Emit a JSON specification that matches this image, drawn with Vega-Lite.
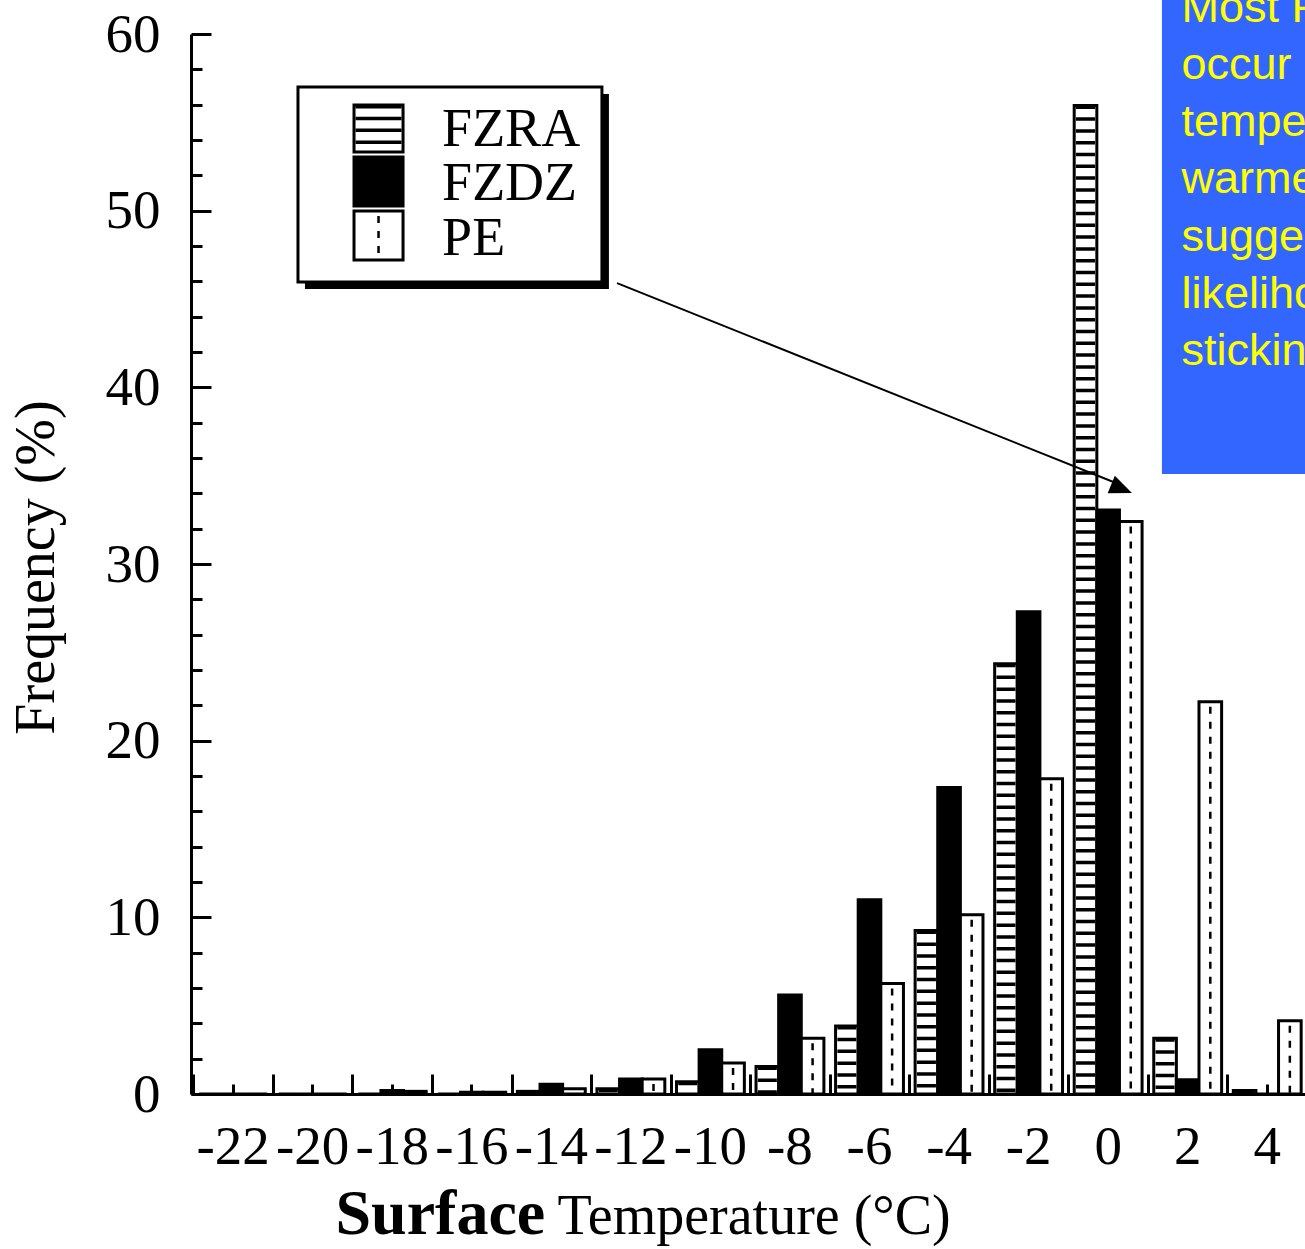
{
  "$schema": "https://vega.github.io/schema/vega-lite/v6.json",
  "width": 1116,
  "height": 1060,
  "autosize": "none",
  "padding": {"left": 191, "top": 34, "right": 0, "bottom": 155},
  "background": "white",
  "config": {
    "view": {"stroke": null},
    "axis": {
      "grid": false,
      "domainColor": "black",
      "domainWidth": 3,
      "tickColor": "black",
      "tickWidth": 3,
      "labelColor": "black",
      "titleColor": "black",
      "labelFont": "Liberation Serif",
      "titleFont": "Liberation Serif",
      "titleFontWeight": "normal",
      "labelFontSize": 55,
      "labelOverlap": false,
      "labelBound": false,
      "labelFlush": false
    }
  },
  "layer": [
    {
      "data": {
        "values": [
          {"temp": -22, "series": "FZRA", "freq": 0},
          {"temp": -22, "series": "FZDZ", "freq": 0},
          {"temp": -22, "series": "PE", "freq": 0},
          {"temp": -20, "series": "FZRA", "freq": 0},
          {"temp": -20, "series": "FZDZ", "freq": 0},
          {"temp": -20, "series": "PE", "freq": 0},
          {"temp": -18, "series": "FZRA", "freq": 0},
          {"temp": -18, "series": "FZDZ", "freq": 0.2},
          {"temp": -18, "series": "PE", "freq": 0.15},
          {"temp": -16, "series": "FZRA", "freq": 0},
          {"temp": -16, "series": "FZDZ", "freq": 0.1},
          {"temp": -16, "series": "PE", "freq": 0.1},
          {"temp": -14, "series": "FZRA", "freq": 0.15},
          {"temp": -14, "series": "FZDZ", "freq": 0.55},
          {"temp": -14, "series": "PE", "freq": 0.3},
          {"temp": -12, "series": "FZRA", "freq": 0.3},
          {"temp": -12, "series": "FZDZ", "freq": 0.85},
          {"temp": -12, "series": "PE", "freq": 0.85},
          {"temp": -10, "series": "FZRA", "freq": 0.7},
          {"temp": -10, "series": "FZDZ", "freq": 2.5},
          {"temp": -10, "series": "PE", "freq": 1.75},
          {"temp": -8, "series": "FZRA", "freq": 1.55},
          {"temp": -8, "series": "FZDZ", "freq": 5.6},
          {"temp": -8, "series": "PE", "freq": 3.15},
          {"temp": -6, "series": "FZRA", "freq": 3.85},
          {"temp": -6, "series": "FZDZ", "freq": 11.0},
          {"temp": -6, "series": "PE", "freq": 6.25},
          {"temp": -4, "series": "FZRA", "freq": 9.25},
          {"temp": -4, "series": "FZDZ", "freq": 17.35},
          {"temp": -4, "series": "PE", "freq": 10.15},
          {"temp": -2, "series": "FZRA", "freq": 24.35},
          {"temp": -2, "series": "FZDZ", "freq": 27.3},
          {"temp": -2, "series": "PE", "freq": 17.85},
          {"temp": 0, "series": "FZRA", "freq": 55.95},
          {"temp": 0, "series": "FZDZ", "freq": 33.05},
          {"temp": 0, "series": "PE", "freq": 32.4},
          {"temp": 2, "series": "FZRA", "freq": 3.15},
          {"temp": 2, "series": "FZDZ", "freq": 0.8},
          {"temp": 2, "series": "PE", "freq": 22.2},
          {"temp": 4, "series": "FZRA", "freq": 0.2},
          {"temp": 4, "series": "FZDZ", "freq": 0},
          {"temp": 4, "series": "PE", "freq": 4.15}
        ]
      },
      "layer": [
        {
          "mark": {"type": "bar", "stroke": "black", "strokeWidth": 3},
          "encoding": {
            "x": {
              "field": "temp", "type": "ordinal",
              "scale": {"domain": [-22, -20, -18, -16, -14, -12, -10, -8, -6, -4, -2, 0, 2, 4], "paddingInner": 0, "paddingOuter": 0.015, "align": 1},
              "axis": {
                "orient": "bottom",
                "labelAngle": 0,
                "tickBand": "center",
                "tickSize": -10,
                "labelPadding": 36,
                "title": "Temperature (°C)",
                "titleFontSize": 56,
                "titleAnchor": "start",
                "titleAlign": "left",
                "titleBaseline": "alphabetic",
                "titleX": 366,
                "titleY": 139
              }
            },
            "xOffset": {
              "field": "series", "type": "nominal",
              "scale": {"domain": ["FZRA", "FZDZ", "PE"], "paddingInner": 0, "paddingOuter": 0.258}
            },
            "y": {
              "field": "freq", "type": "quantitative",
              "scale": {"domain": [0, 60], "nice": false},
              "axis": {
                "orient": "left",
                "values": [0, 2, 4, 6, 8, 10, 12, 14, 16, 18, 20, 22, 24, 26, 28, 30, 32, 34, 36, 38, 40, 42, 44, 46, 48, 50, 52, 54, 56, 58, 60],
                "labelExpr": "datum.value % 10 === 0 ? datum.label : ''",
                "tickSize": {"condition": {"test": "datum.value % 10 === 0", "value": -20}, "value": -11},
                "labelPadding": 51,
                "title": "Frequency (%)",
                "titleFontSize": 56,
                "titleAngle": -90,
                "titleAlign": "center",
                "titleBaseline": "alphabetic",
                "titleX": -138,
                "titleY": 533
              }
            },
            "fill": {
              "field": "series", "type": "nominal",
              "scale": {"domain": ["FZRA", "FZDZ", "PE"], "range": ["white", "black", "white"]},
              "legend": null
            }
          }
        },
        {
          "transform": [{"filter": "datum.series === 'FZRA'"}],
          "mark": {"type": "rule", "color": "black", "strokeWidth": 19, "strokeDash": [3.5, 8.3]},
          "encoding": {
            "x": {
              "field": "temp", "type": "ordinal",
              "scale": {"domain": [-22, -20, -18, -16, -14, -12, -10, -8, -6, -4, -2, 0, 2, 4], "paddingInner": 0, "paddingOuter": 0.015, "align": 1},
              "axis": {
                "orient": "bottom",
                "tickBand": "extent",
                "tickSize": -20,
                "labels": false,
                "domain": false,
                "title": "Surface",
                "titleFontSize": 64,
                "titleFontWeight": "bold",
                "titleAnchor": "start",
                "titleAlign": "left",
                "titleBaseline": "alphabetic",
                "titleX": 144,
                "titleY": 139
              }
            },
            "xOffset": {
              "field": "series", "type": "nominal",
              "scale": {"domain": ["FZRA", "FZDZ", "PE"], "paddingInner": 0, "paddingOuter": 0.258}
            },
            "y": {"field": "freq", "type": "quantitative", "scale": {"domain": [0, 60], "nice": false}, "axis": null},
            "y2": {"datum": 0}
          }
        },
        {
          "transform": [{"filter": "datum.series === 'PE'"}],
          "mark": {"type": "rule", "color": "black", "strokeWidth": 2.5, "strokeDash": [7, 8], "strokeDashOffset": 10},
          "encoding": {
            "x": {
              "field": "temp", "type": "ordinal",
              "scale": {"domain": [-22, -20, -18, -16, -14, -12, -10, -8, -6, -4, -2, 0, 2, 4], "paddingInner": 0, "paddingOuter": 0.015, "align": 1},
              "axis": null
            },
            "xOffset": {
              "field": "series", "type": "nominal",
              "scale": {"domain": ["FZRA", "FZDZ", "PE"], "paddingInner": 0, "paddingOuter": 0.258}
            },
            "y": {"field": "freq", "type": "quantitative", "scale": {"domain": [0, 60], "nice": false}, "axis": null},
            "y2": {"datum": 0}
          }
        }
      ],
      "resolve": {"axis": {"x": "independent", "y": "independent"}}
    },
    {
      "data": {"values": [{}]},
      "layer": [
        {
          "mark": {"type": "rect", "fill": "black", "xOffset": 7, "x2Offset": 7, "yOffset": 7, "y2Offset": 7},
          "encoding": {
            "x": {"datum": -20.316, "type": "quantitative", "scale": {"domain": [-23, 5], "nice": false, "zero": false}, "axis": null},
            "x2": {"datum": -12.69},
            "y": {"datum": 57.0, "type": "quantitative", "scale": {"domain": [0, 60], "nice": false}, "axis": null},
            "y2": {"datum": 45.96}
          }
        },
        {
          "mark": {"type": "rect", "fill": "white", "stroke": "black", "strokeWidth": 3},
          "encoding": {
            "x": {"datum": -20.316, "type": "quantitative", "scale": {"domain": [-23, 5], "nice": false, "zero": false}, "axis": null},
            "x2": {"datum": -12.69},
            "y": {"datum": 57.0, "type": "quantitative", "scale": {"domain": [0, 60], "nice": false}, "axis": null},
            "y2": {"datum": 45.96}
          }
        },
        {
          "mark": {"type": "rect", "fill": "white", "stroke": "black", "strokeWidth": 3},
          "encoding": {
            "x": {"datum": -18.91, "type": "quantitative", "scale": {"domain": [-23, 5], "nice": false, "zero": false}, "axis": null},
            "x2": {"datum": -17.68},
            "y": {"datum": 55.98, "type": "quantitative", "scale": {"domain": [0, 60], "nice": false}, "axis": null},
            "y2": {"datum": 53.32}
          }
        },
        {
          "mark": {"type": "rule", "color": "black", "strokeWidth": 46, "strokeDash": [3.5, 8.3]},
          "encoding": {
            "x": {"datum": -18.295, "type": "quantitative", "scale": {"domain": [-23, 5], "nice": false, "zero": false}, "axis": null},
            "y": {"datum": 55.98, "type": "quantitative", "scale": {"domain": [0, 60], "nice": false}, "axis": null},
            "y2": {"datum": 53.32}
          }
        },
        {
          "mark": {"type": "rect", "fill": "black", "stroke": "black", "strokeWidth": 3},
          "encoding": {
            "x": {"datum": -18.91, "type": "quantitative", "scale": {"domain": [-23, 5], "nice": false, "zero": false}, "axis": null},
            "x2": {"datum": -17.68},
            "y": {"datum": 53.04, "type": "quantitative", "scale": {"domain": [0, 60], "nice": false}, "axis": null},
            "y2": {"datum": 50.26}
          }
        },
        {
          "mark": {"type": "rect", "fill": "white", "stroke": "black", "strokeWidth": 3},
          "encoding": {
            "x": {"datum": -18.91, "type": "quantitative", "scale": {"domain": [-23, 5], "nice": false, "zero": false}, "axis": null},
            "x2": {"datum": -17.68},
            "y": {"datum": 49.98, "type": "quantitative", "scale": {"domain": [0, 60], "nice": false}, "axis": null},
            "y2": {"datum": 47.21}
          }
        },
        {
          "mark": {"type": "rule", "color": "black", "strokeWidth": 2.5, "strokeDash": [7, 8], "strokeDashOffset": 10},
          "encoding": {
            "x": {"datum": -18.295, "type": "quantitative", "scale": {"domain": [-23, 5], "nice": false, "zero": false}, "axis": null},
            "y": {"datum": 49.98, "type": "quantitative", "scale": {"domain": [0, 60], "nice": false}, "axis": null},
            "y2": {"datum": 47.21}
          }
        },
        {
          "mark": {"type": "text", "font": "Liberation Serif", "fontSize": 54, "color": "black", "align": "left", "baseline": "alphabetic"},
          "encoding": {
            "x": {"datum": -16.7, "type": "quantitative", "scale": {"domain": [-23, 5], "nice": false, "zero": false}, "axis": null},
            "y": {"datum": 53.66, "type": "quantitative", "scale": {"domain": [0, 60], "nice": false}, "axis": null},
            "text": {"value": "FZRA"}
          }
        },
        {
          "mark": {"type": "text", "font": "Liberation Serif", "fontSize": 54, "color": "black", "align": "left", "baseline": "alphabetic"},
          "encoding": {
            "x": {"datum": -16.7, "type": "quantitative", "scale": {"domain": [-23, 5], "nice": false, "zero": false}, "axis": null},
            "y": {"datum": 50.6, "type": "quantitative", "scale": {"domain": [0, 60], "nice": false}, "axis": null},
            "text": {"value": "FZDZ"}
          }
        },
        {
          "mark": {"type": "text", "font": "Liberation Serif", "fontSize": 54, "color": "black", "align": "left", "baseline": "alphabetic"},
          "encoding": {
            "x": {"datum": -16.7, "type": "quantitative", "scale": {"domain": [-23, 5], "nice": false, "zero": false}, "axis": null},
            "y": {"datum": 47.49, "type": "quantitative", "scale": {"domain": [0, 60], "nice": false}, "axis": null},
            "text": {"value": "PE"}
          }
        },
        {
          "mark": {"type": "rule", "color": "black", "strokeWidth": 2},
          "encoding": {
            "x": {"datum": -12.31, "type": "quantitative", "scale": {"domain": [-23, 5], "nice": false, "zero": false}, "axis": null},
            "x2": {"datum": 0.3},
            "y": {"datum": 45.9, "type": "quantitative", "scale": {"domain": [0, 60], "nice": false}, "axis": null},
            "y2": {"datum": 34.5}
          }
        },
        {
          "mark": {"type": "point", "shape": "M0,0L-2,-0.85L-2,0.85Z", "size": 500, "angle": 22.2, "filled": true, "color": "black", "opacity": 1, "strokeWidth": 0},
          "encoding": {
            "x": {"datum": 0.608, "type": "quantitative", "scale": {"domain": [-23, 5], "nice": false, "zero": false}, "axis": null},
            "y": {"datum": 34.02, "type": "quantitative", "scale": {"domain": [0, 60], "nice": false}, "axis": null}
          }
        },
        {
          "mark": {"type": "rect", "fill": "#3366FF"},
          "encoding": {
            "x": {"datum": 1.36, "type": "quantitative", "scale": {"domain": [-23, 5], "nice": false, "zero": false}, "axis": null},
            "x2": {"datum": 6},
            "y": {"datum": 35.09, "type": "quantitative", "scale": {"domain": [0, 60], "nice": false}, "axis": null},
            "y2": {"datum": 63}
          }
        },
        {
          "mark": {"type": "text", "font": "Liberation Sans", "fontSize": 45, "color": "#FFFF00", "align": "left", "baseline": "alphabetic", "lineHeight": 57.2, "lineBreak": "\n"},
          "encoding": {
            "x": {"datum": 1.85, "type": "quantitative", "scale": {"domain": [-23, 5], "nice": false, "zero": false}, "axis": null},
            "y": {"datum": 60.69, "type": "quantitative", "scale": {"domain": [0, 60], "nice": false}, "axis": null},
            "text": {"value": "Most PE\noccur at\ntemperatures\nwarmer than\nsuggesting a\nlikelihood of\nsticking"}
          }
        }
      ]
    }
  ],
  "resolve": {"scale": {"x": "independent"}, "axis": {"y": "independent"}}
}
